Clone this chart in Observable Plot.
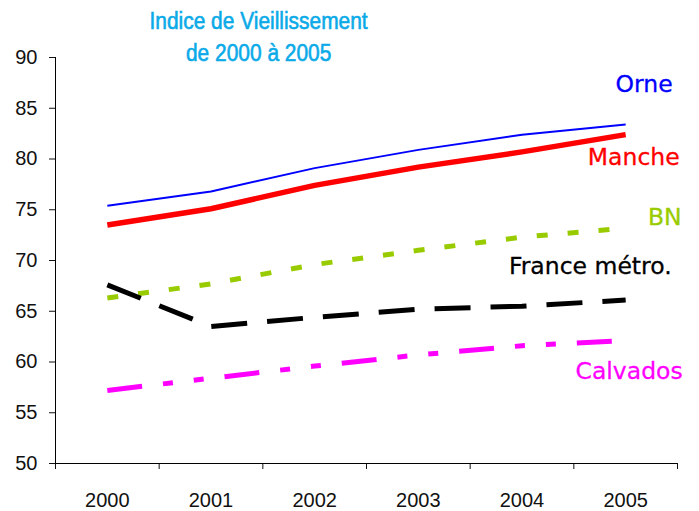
<!DOCTYPE html>
<html>
<head>
<meta charset="utf-8">
<script src="https://cdn.jsdelivr.net/npm/d3@7"></script>
<script src="https://cdn.jsdelivr.net/npm/@observablehq/plot@0.6"></script>
<style>
  html, body { margin: 0; padding: 0; background: #fff; }
  #wrap { position: relative; width: 699px; height: 511px; }
  #title { position: absolute; left: 0; top: 5px; width: 518px; text-align: center;
    font-family: "Liberation Sans", Arial, sans-serif; font-size: 23.5px; line-height: 32px;
    color: #0AAAE8; -webkit-text-stroke: 0.6px #0AAAE8; z-index: 2; pointer-events: none; }
  #title span { display: inline-block; transform: scaleX(0.89); white-space: nowrap; }
  #chart { position: absolute; left: 0; top: 0; }
</style>
</head>
<body>
<div id="wrap">
  <div id="title"><span>Indice de Vieillissement</span><br><span>de 2000 à 2005</span></div>
  <div id="chart"></div>
</div>
<script>
// ---- data ----
const years = [2000, 2001, 2002, 2003, 2004, 2005];
const orne     = [75.4, 76.8, 79.1, 80.9, 82.4, 83.4];
const manche   = [73.5, 75.1, 77.4, 79.2, 80.7, 82.4];
const bn       = [66.3, 67.7, 69.6, 71.0, 72.3, 73.2];
const france   = [67.6, 63.5, 64.4, 65.2, 65.5, 66.1];
const calvados = [57.2, 58.4, 59.6, 60.7, 61.6, 62.1];
const seriesNames = ["Orne", "Manche", "BN", "France métro.", "Calvados"];
const yTicks = [50, 55, 60, 65, 70, 75, 80, 85, 90];

// ---- styles (kept apart from data) ----
const styles = {
  "Orne":          { color: "#0000FF", width: 2,   dash: null,                    dx: 47, dy: -40 },
  "Manche":        { color: "#FF0000", width: 5.5, dash: null,                    dx: 54, dy: 23 },
  "BN":            { color: "#99CC00", width: 5,   dash: "11,20",                 dx: 56, dy: -11 },
  "France métro.": { color: "#000000", width: 5,   dash: "36,20",                 dx: 46, dy: -34 },
  "Calvados":      { color: "#FF00FF", width: 5,   dash: "35,21,10,21,10,21",     dx: 57, dy: 31 }
};

const valuesBySeries = { "Orne": orne, "Manche": manche, "BN": bn, "France métro.": france, "Calvados": calvados };
const rows = seriesNames.flatMap(s => years.map((y, i) => ({ series: s, year: y, value: valuesBySeries[s][i] })));

const xDomain = [years[0] - 0.5, years[years.length - 1] + 0.5];
const yDomain = [yTicks[0], yTicks[yTicks.length - 1]];
const bounds = d3.range(xDomain[0], xDomain[1] + 0.01, 1);

const tickFont = "'Liberation Sans', Arial, sans-serif";
const labelFont = "'DejaVu Sans', Verdana, sans-serif";

const lineMarks = seriesNames.map(s => Plot.line(rows.filter(d => d.series === s), {
  x: "year", y: "value",
  stroke: styles[s].color,
  strokeWidth: styles[s].width,
  strokeDasharray: styles[s].dash ?? undefined,
  strokeLinecap: "butt",
  strokeLinejoin: "round"
}));

const labelMarks = seriesNames.map(s => Plot.text(rows.filter(d => d.series === s && d.year === years[years.length - 1]), {
  x: "year", y: "value",
  text: "series",
  fill: styles[s].color,
  stroke: styles[s].color,
  strokeWidth: 0.3,
  textAnchor: "end",
  dx: styles[s].dx, dy: styles[s].dy,
  fontSize: 23.5,
  fontFamily: labelFont
}));

const chart = Plot.plot({
  width: 699,
  height: 511,
  marginLeft: 55,
  marginRight: 22,
  marginTop: 57,
  marginBottom: 48,
  style: { fontFamily: tickFont, fontSize: "20px", color: "#111", background: "transparent" },
  x: { domain: xDomain },
  y: { domain: yDomain },
  marks: [
    Plot.axisY({ ticks: yTicks, tickSize: 6, tickPadding: 12, label: null, tickFormat: d => String(d), fontSize: 20, fontFamily: tickFont }),
    Plot.axisX({ ticks: bounds, tickSize: 6, tickFormat: () => "", label: null }),
    Plot.axisX({ ticks: years, tickSize: 0, tickPadding: 29, tickFormat: d => String(d), label: null, fontSize: 20, fontFamily: tickFont }),
    Plot.ruleX([xDomain[0]], { stroke: "#000", strokeWidth: 1 }),
    Plot.ruleY([yDomain[0]], { stroke: "#000", strokeWidth: 1 }),
    ...lineMarks,
    ...labelMarks
  ]
});
document.getElementById("chart").appendChild(chart);
</script>
</body>
</html>
